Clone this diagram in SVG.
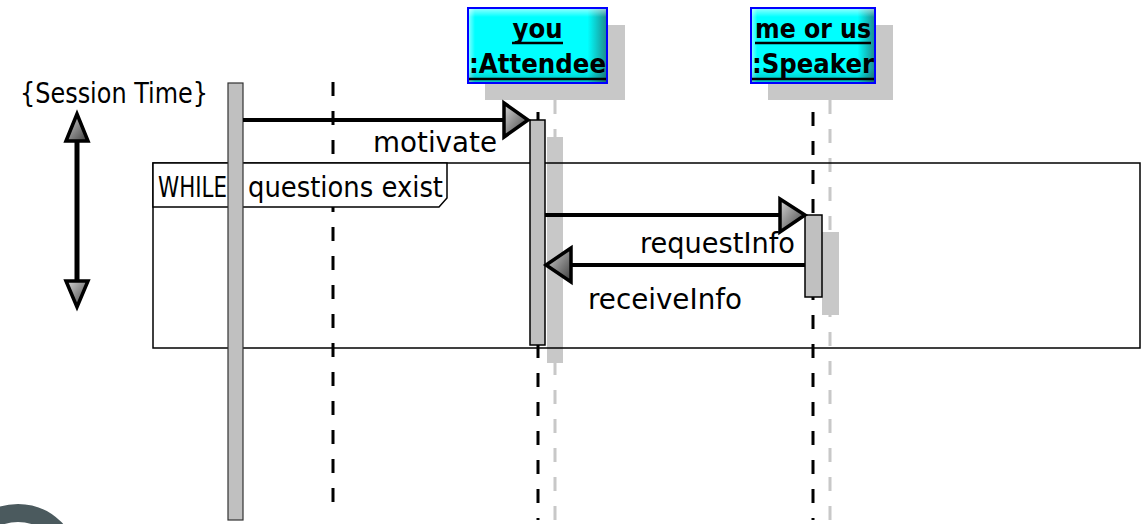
<svg xmlns="http://www.w3.org/2000/svg" width="1142" height="524" viewBox="0 0 1142 524">
<style>
.title{font-family:"DejaVu Sans",sans-serif;font-weight:bold;font-size:27px;fill:#000;text-anchor:middle}
.lbl{font-family:"DejaVu Sans",sans-serif;font-size:28px;fill:#000}
.ll{stroke:#000;stroke-width:3;stroke-dasharray:14 15;fill:none}
.llsh{stroke:#c8c8c8;stroke-width:3;stroke-dasharray:14 15;fill:none}
.act{fill:#c0c0c0;stroke:#000;stroke-width:1.5}
.sh{fill:#c8c8c8}
.msg{stroke:#000;stroke-width:4;fill:none}
.head{fill:url(#grayG);stroke:#000;stroke-width:3.5;stroke-linejoin:miter}
.ul{stroke:#000;stroke-width:2.5}
</style>
<defs>
<linearGradient id="cyanH" x1="0" y1="0" x2="1" y2="0">
<stop offset="0" stop-color="#8fffff"/>
<stop offset="0.05" stop-color="#00ffff"/>
<stop offset="0.86" stop-color="#00ffff"/>
<stop offset="1" stop-color="#1f8a8a"/>
</linearGradient>
<linearGradient id="cyanV" x1="0" y1="0" x2="0" y2="1">
<stop offset="0" stop-color="#ffffff" stop-opacity="0.6"/>
<stop offset="0.12" stop-color="#ffffff" stop-opacity="0"/>
<stop offset="0.8" stop-color="#000000" stop-opacity="0"/>
<stop offset="1" stop-color="#000000" stop-opacity="0.25"/>
</linearGradient>
<linearGradient id="grayG" x1="0" y1="0" x2="1" y2="1">
<stop offset="0" stop-color="#d8d8d8"/>
<stop offset="1" stop-color="#3c3c3c"/>
</linearGradient>
</defs>
<rect width="1142" height="524" fill="#fff"/>

<g id="logo">
<circle cx="18" cy="565" r="52" fill="none" stroke="#4b5a5e" stroke-width="18"/>
</g>

<g id="session-time">
<text class="lbl" x="20" y="103" font-size="26" textLength="188" lengthAdjust="spacingAndGlyphs">{Session Time}</text>
<line x1="77" y1="138" x2="77" y2="284" stroke="#000" stroke-width="5"/>
<polygon class="head" points="66,141 77,114 88,141"/>
<polygon class="head" points="66,281 77,307 88,281"/>
</g>

<g id="lifelines">
<line class="ll" x1="333" y1="82" x2="333" y2="508"/>
<line class="llsh" x1="555" y1="100" x2="555" y2="524"/>
<line class="ll" x1="538" y1="83" x2="538" y2="520"/>
<line class="llsh" x1="830" y1="100" x2="830" y2="524"/>
<line class="ll" x1="813" y1="83" x2="813" y2="520"/>
</g>

<g id="attendee">
<rect class="sh" x="485" y="25" width="140" height="75"/>
<rect x="468" y="8" width="139" height="75" fill="url(#cyanH)"/>
<rect x="468" y="8" width="139" height="75" fill="url(#cyanV)" stroke="#0000ff" stroke-width="2"/>
<text class="title" x="537.5" y="38" textLength="50" lengthAdjust="spacingAndGlyphs">you</text>
<line class="ul" x1="512" y1="43" x2="563" y2="43"/>
<text class="title" x="537.5" y="73" textLength="137" lengthAdjust="spacingAndGlyphs">:Attendee</text>
<line class="ul" x1="469" y1="79" x2="606" y2="79"/>
</g>

<g id="speaker">
<rect class="sh" x="768" y="25" width="125" height="75"/>
<rect x="751" y="8" width="124" height="75" fill="url(#cyanH)"/>
<rect x="751" y="8" width="124" height="75" fill="url(#cyanV)" stroke="#0000ff" stroke-width="2"/>
<text class="title" x="813" y="38" textLength="116" lengthAdjust="spacingAndGlyphs">me or us</text>
<line class="ul" x1="755" y1="43" x2="871" y2="43"/>
<text class="title" x="813" y="73" textLength="122" lengthAdjust="spacingAndGlyphs">:Speaker</text>
<line class="ul" x1="752" y1="79" x2="874" y2="79"/>
</g>

<g id="activation-shadows">
<rect class="sh" x="547" y="137" width="16" height="226"/>
<rect class="sh" x="822" y="232" width="17" height="83"/>
</g>

<g id="while-frame">
<rect x="153" y="163" width="987" height="185" fill="none" stroke="#000" stroke-width="1.5"/>
<path d="M153,163 H447 V198 L439,207 H153 Z" fill="#fff" stroke="#000" stroke-width="1.5"/>
<text class="lbl" x="158" y="197" font-size="26" fill="#111"><tspan textLength="69" lengthAdjust="spacingAndGlyphs">WHILE</tspan><tspan x="248" textLength="195" lengthAdjust="spacingAndGlyphs">questions exist</tspan></text>
</g>

<g id="activations">
<rect x="228" y="83" width="15" height="437" fill="#c0c0c0" stroke="#333" stroke-width="1.2"/>
<rect class="act" x="530" y="120" width="15" height="225"/>
<rect class="act" x="805" y="215" width="17" height="82"/>
</g>

<g id="connectors">
<g id="msg-motivate">
<line class="msg" x1="243" y1="120" x2="505" y2="120"/>
<polygon class="head" points="504,103 528,120 504,137"/>
<text class="lbl" x="373" y="152" textLength="124" lengthAdjust="spacingAndGlyphs">motivate</text>
</g>
<g id="msg-requestInfo">
<line class="msg" x1="545" y1="215" x2="781" y2="215"/>
<polygon class="head" points="780,199 805,215 780,232"/>
<text class="lbl" x="640" y="253" textLength="155" lengthAdjust="spacingAndGlyphs">requestInfo</text>
</g>
<g id="msg-receiveInfo">
<line class="msg" x1="805" y1="265" x2="570" y2="265"/>
<polygon class="head" points="571,248 546,265 571,282"/>
<text class="lbl" x="588" y="309" textLength="154" lengthAdjust="spacingAndGlyphs">receiveInfo</text>
</g>
</g>
</svg>
